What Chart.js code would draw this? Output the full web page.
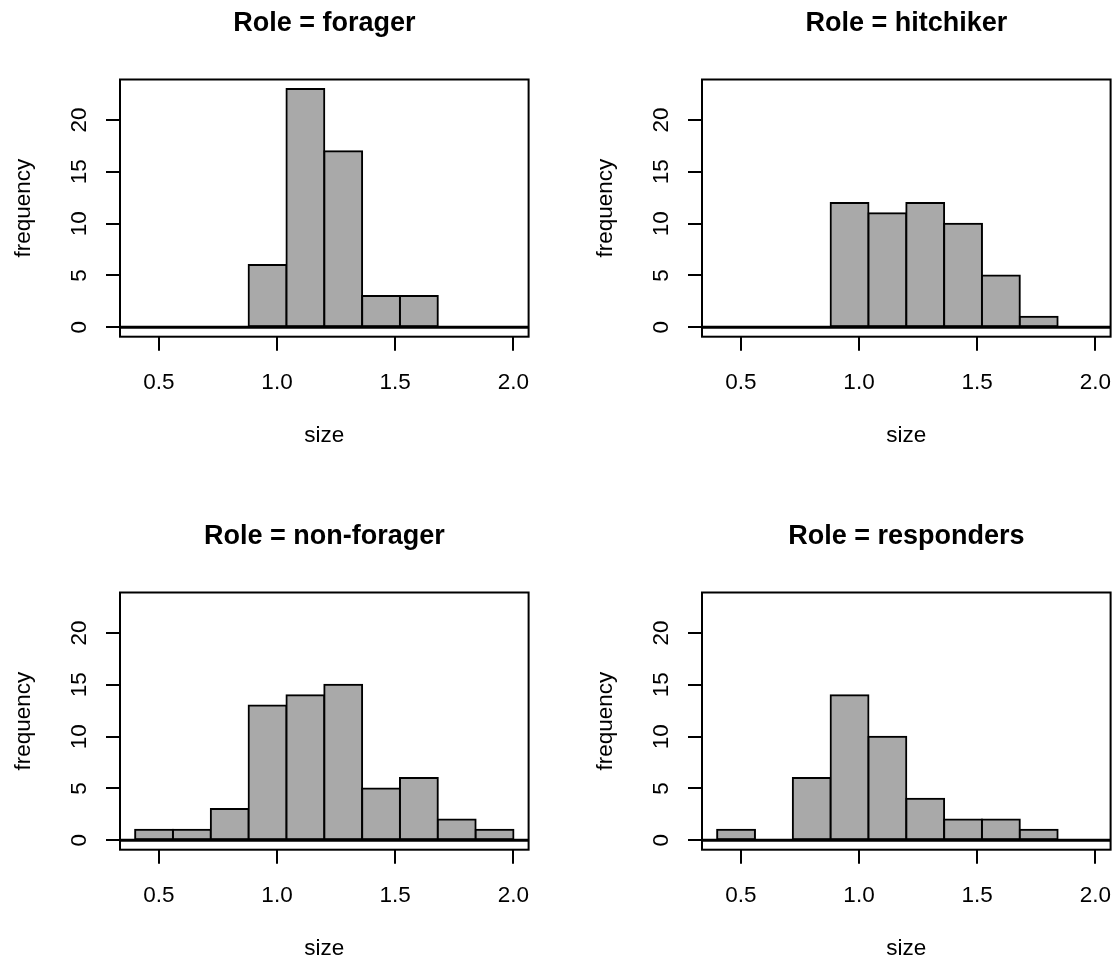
<!DOCTYPE html>
<html>
<head>
<meta charset="utf-8">
<script src="https://cdn.jsdelivr.net/npm/chart.js@4.4.1/dist/chart.umd.min.js"></script>
<style>
  html, body { margin: 0; padding: 0; background: #ffffff; overflow: hidden; width: 1113px; height: 960px; }
  canvas { position: absolute; }
</style>
</head>
<body>
<canvas id="panel-forager" width="600" height="470"></canvas>
<canvas id="panel-hitchiker" width="600" height="470"></canvas>
<canvas id="panel-nonforager" width="600" height="470"></canvas>
<canvas id="panel-responders" width="600" height="470"></canvas>
<script>
// Histogram bin edges shared by every role (width 0.16)
const binEdges = [0.4, 0.56, 0.72, 0.88, 1.04, 1.2, 1.36, 1.52, 1.68, 1.84, 2.0];

// Counts per bin for each role
const foragerCounts    = [0, 0, 0, 6, 23, 17, 3, 3, 0, 0];
const hitchikerCounts  = [0, 0, 0, 12, 11, 12, 10, 5, 1, 0];
const nonForagerCounts = [1, 1, 3, 13, 14, 15, 5, 6, 2, 1];
const respondersCounts = [1, 0, 6, 14, 10, 4, 2, 2, 1, 0];

// Axis ticks and data limits
const xTicks = [0.5, 1.0, 1.5, 2.0];
const yTicks = [0, 5, 10, 15, 20];
const xLimits = [0.4, 2.0];
const yLimits = [0, 23];

const FONT = '"Liberation Sans", Arial, Helvetica, sans-serif';
const AXIS_PX = 22.5;
const TITLE_PX = 27;

// base-graphics style 4% range expansion
function expand(lim) {
  const d = (lim[1] - lim[0]) * 0.04;
  return [lim[0] - d, lim[1] + d];
}
const xRange = expand(xLimits);
const yRange = expand(yLimits);

const binMids = binEdges.slice(0, -1).map((e, i) => (e + binEdges[i + 1]) / 2);

// Frame around the plot region plus the horizontal reference line at zero
const framePlugin = {
  id: 'frame',
  afterDatasetsDraw(chart) {
    const { ctx, chartArea: a, scales: { y } } = chart;
    ctx.save();
    ctx.strokeStyle = '#000';
    ctx.lineWidth = 3;
    const y0 = y.getPixelForValue(0);
    ctx.beginPath();
    ctx.moveTo(a.left, y0);
    ctx.lineTo(a.right, y0);
    ctx.stroke();
    ctx.lineWidth = 2;
    ctx.strokeRect(a.left, a.top, a.right - a.left, a.bottom - a.top);
    ctx.restore();
  }
};

const panels = [
  { id: 'panel-forager',     role: 'forager',     counts: foragerCounts,    left: 0,   top: 0 },
  { id: 'panel-hitchiker',   role: 'hitchiker',   counts: hitchikerCounts,  left: 582, top: 0 },
  { id: 'panel-nonforager',  role: 'non-forager', counts: nonForagerCounts, left: 0,   top: 513 },
  { id: 'panel-responders',  role: 'responders',  counts: respondersCounts, left: 582, top: 513 }
];

const CW = 600, CH = 470;
const AREA_LEFT = 120, AREA_RIGHT = 528.6, AREA_TOP = 79.5, AREA_BOTTOM = 336.7;
const X_AXIS_H = 112.8;
const TITLE_PAD_TOP = 7;
const TITLE_PAD_BOTTOM = AREA_TOP - TITLE_PAD_TOP - TITLE_PX * 1.2;

function gridStyle() {
  return {
    display: true,
    offset: false,
    drawOnChartArea: false,
    drawTicks: true,
    tickLength: 14,
    color: '#000',
    lineWidth: 2
  };
}

panels.forEach(p => {
  const cv = document.getElementById(p.id);
  cv.style.left = p.left + 'px';
  cv.style.top = p.top + 'px';

  new Chart(cv, {
    type: 'bar',
    data: {
      datasets: [{
        data: binMids.map((m, i) => ({ x: m, y: p.counts[i] })),
        backgroundColor: '#a9a9a9',
        borderColor: '#000',
        borderWidth: 2,
        borderSkipped: false,
        inflateAmount: 1,
        barPercentage: 1,
        categoryPercentage: 1
      }]
    },
    options: {
      responsive: false,
      maintainAspectRatio: false,
      devicePixelRatio: 1,
      animation: false,
      events: [],
      layout: {
        padding: { left: 0, top: 0, right: CW - AREA_RIGHT, bottom: CH - AREA_BOTTOM - X_AXIS_H }
      },
      plugins: {
        legend: { display: false },
        tooltip: { enabled: false },
        title: {
          display: true,
          text: 'Role = ' + p.role,
          color: '#000',
          fullSize: false,
          font: { family: FONT, size: TITLE_PX, weight: 'bold' },
          padding: { top: TITLE_PAD_TOP, bottom: TITLE_PAD_BOTTOM }
        }
      },
      scales: {
        x: {
          type: 'linear',
          position: 'bottom',
          offset: false,
          min: xRange[0],
          max: xRange[1],
          afterBuildTicks: s => { s.ticks = xTicks.map(v => ({ value: v })); },
          afterFit: s => { s.height = X_AXIS_H; },
          grid: gridStyle(),
          border: { display: false },
          ticks: {
            autoSkip: false,
            maxRotation: 0,
            minRotation: 0,
            padding: 18.3,
            color: '#000',
            font: { family: FONT, size: AXIS_PX },
            callback: v => Number(v).toFixed(1)
          },
          title: {
            display: true,
            text: 'size',
            color: '#000',
            font: { family: FONT, size: AXIS_PX },
            padding: { top: 0, bottom: 0 }
          }
        },
        y: {
          type: 'linear',
          position: 'left',
          min: yRange[0],
          max: yRange[1],
          afterBuildTicks: s => { s.ticks = yTicks.map(v => ({ value: v })); },
          afterFit: s => { s.width = AREA_LEFT; },
          grid: gridStyle(),
          border: { display: false },
          ticks: {
            autoSkip: false,
            minRotation: 90,
            maxRotation: 90,
            crossAlign: 'center',
            padding: 14,
            color: '#000',
            font: { family: FONT, size: AXIS_PX },
            callback: v => String(v)
          },
          title: {
            display: true,
            text: 'frequency',
            color: '#000',
            font: { family: FONT, size: AXIS_PX },
            padding: { top: 10.5, bottom: 0 }
          }
        }
      }
    },
    plugins: [framePlugin]
  });
});
</script>
</body>
</html>
